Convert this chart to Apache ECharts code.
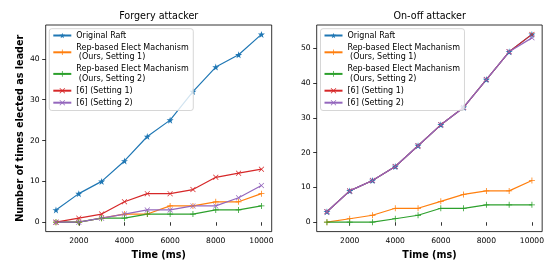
<!DOCTYPE html>
<html>
<head>
<meta charset="utf-8">
<script src="https://cdn.jsdelivr.net/npm/echarts@6/dist/echarts.min.js"></script>
<style>
  html, body { margin: 0; padding: 0; background: #fff; }
  #chart { width: 547px; height: 265px; }
</style>
</head>
<body>
<div id="chart"></div>
<script>
// x values (ms)
var times = [1000, 2000, 3000, 4000, 5000, 6000, 7000, 8000, 9000, 10000]
var xTicks = [2000, 4000, 6000, 8000, 10000]

// Forgery attacker
var forgeryRaft = [3, 7, 10, 15, 21, 25, 32, 38, 41, 46]
var forgeryOurs1 = [0, 0, 1, 2, 2, 4, 4, 5, 5, 7]
var forgeryOurs2 = [0, 0, 1, 1, 2, 2, 2, 3, 3, 4]
var forgeryRef1 = [0, 1, 2, 5, 7, 7, 8, 11, 12, 13]
var forgeryRef2 = [0, 0, 1, 2, 3, 3, 4, 4, 6, 9]
var forgeryYTicks = [0, 10, 20, 30, 40]

// On-off attacker
var onoffRaft = [3, 9, 12, 16, 22, 28, 33, 41, 49, 54]
var onoffOurs1 = [0, 1, 2, 4, 4, 6, 8, 9, 9, 12]
var onoffOurs2 = [0, 0, 0, 1, 2, 4, 4, 5, 5, 5]
var onoffRef1 = [3, 9, 12, 16, 22, 28, 33, 41, 49, 54]
var onoffRef2 = [3, 9, 12, 16, 22, 28, 33, 41, 49, 53]
var onoffYTicks = [0, 10, 20, 30, 40, 50]

var leftNames = ['Original Raft', 'Rep-based Elect Machanism\n (Ours, Setting 1)',
  'Rep-based Elect Machanism\n (Ours, Setting 2)', '[6] (Setting 1)', '[6] (Setting 2)']
var rightNames = ['Orignal Raft', leftNames[1] + ' ', leftNames[2] + ' ', '[6] (Setting 1) ', '[6] (Setting 2) ']

var colors = ['#1f77b4', '#ff7f0e', '#2ca02c', '#d62728', '#9467bd']

var STAR = 'path://M0,-10L2.24,-3.09L9.51,-3.09L3.63,1.18L5.88,8.09L0,3.82L-5.88,8.09L-3.63,1.18L-9.51,-3.09L-2.24,-3.09Z'
var PLUS = 'path://M-1.3,-10H1.3V-1.3H10V1.3H1.3V10H-1.3V1.3H-10V-1.3H-1.3Z'
var CROSS = 'path://M-10,-8.2L-8.2,-10L0,-1.8L8.2,-10L10,-8.2L1.8,0L10,8.2L8.2,10L0,1.8L-8.2,10L-10,8.2L-1.8,0Z'
var symbols = [STAR, PLUS, PLUS, CROSS, CROSS]
var symSizes = [7, 6, 6, 5.5, 5.5]

function pairs (vals) {
  return times.map(function (t, i) { return [t, vals[i]] })
}

function makeSeries (names, sets, axisIdx) {
  return sets.map(function (vals, i) {
    return {
      name: names[i],
      type: 'line',
      xAxisIndex: axisIdx,
      yAxisIndex: axisIdx,
      data: pairs(vals),
      symbol: symbols[i],
      symbolSize: symSizes[i],
      showAllSymbol: true,
      animation: false,
      itemStyle: { color: colors[i] },
      lineStyle: { color: colors[i], width: 1.2 }
    }
  })
}

var tickFont = { fontFamily: 'DejaVu Sans', fontSize: 7.6, color: '#000' }
var nameFont = { fontFamily: 'DejaVu Sans', fontSize: 9.6, fontWeight: 'bold', color: '#000' }

function plain (v) { return String(v) }

function xAxisOpt (idx, name) {
  return {
    type: 'value',
    gridIndex: idx,
    min: 550,
    max: 10450,
    name: name,
    nameLocation: 'middle',
    nameGap: 15.5,
    nameTextStyle: nameFont,
    axisLine: { show: false },
    splitLine: { show: false },
    axisTick: { show: true, length: 3.5, customValues: xTicks, lineStyle: { color: '#000', width: 0.8 } },
    axisLabel: Object.assign({ margin: 5.5, customValues: xTicks, formatter: plain }, tickFont)
  }
}

function yAxisOpt (idx, min, max, ticks, name) {
  return {
    type: 'value',
    gridIndex: idx,
    min: min,
    max: max,
    name: name,
    nameLocation: 'middle',
    nameGap: 20,
    nameTextStyle: nameFont,
    axisLine: { show: false },
    splitLine: { show: false },
    axisTick: { show: true, length: 3.5, customValues: ticks, lineStyle: { color: '#000', width: 0.8 } },
    axisLabel: Object.assign({ margin: 6, customValues: ticks, formatter: plain }, tickFont)
  }
}

function legendOpt (names, left) {
  return {
    data: names,
    orient: 'vertical',
    left: left,
    top: 28.7,
    itemWidth: 18,
    itemHeight: 7,
    itemGap: 2.4,
    padding: [2, 4.5, 3, 3],
    backgroundColor: 'rgba(255,255,255,0.8)',
    borderColor: '#cccccc',
    borderWidth: 0.8,
    borderRadius: 2.5,
    textStyle: { fontFamily: 'DejaVu Sans', fontSize: 8, lineHeight: 9.6, color: '#000' }
  }
}

var option = {
  animation: false,
  backgroundColor: '#fff',
  grid: [
    { left: 45.7, right: 275.3, top: 25, bottom: 26, show: true, borderColor: '#000', borderWidth: 0.8, backgroundColor: 'transparent' },
    { left: 316.7, right: 4.3, top: 25, bottom: 26, show: true, borderColor: '#000', borderWidth: 0.8, backgroundColor: 'transparent' }
  ],
  graphic: [
    { type: 'text', x: 158.7, y: 16, style: { text: 'Forgery attacker', fontFamily: 'DejaVu Sans', fontSize: 9.6, fill: '#000', align: 'center', verticalAlign: 'middle' } },
    { type: 'text', x: 429.7, y: 16, style: { text: 'On-off attacker', fontFamily: 'DejaVu Sans', fontSize: 9.6, fill: '#000', align: 'center', verticalAlign: 'middle' } }
  ],
  legend: [legendOpt(leftNames, 49.3), legendOpt(rightNames, 320.5)],
  xAxis: [xAxisOpt(0, 'Time (ms)'), xAxisOpt(1, 'Time (ms)')],
  yAxis: [
    yAxisOpt(0, -2.3, 48.3, forgeryYTicks, 'Number of times elected as leader'),
    yAxisOpt(1, -2.7, 56.7, onoffYTicks, '')
  ],
  series: makeSeries(leftNames, [forgeryRaft, forgeryOurs1, forgeryOurs2, forgeryRef1, forgeryRef2], 0)
    .concat(makeSeries(rightNames, [onoffRaft, onoffOurs1, onoffOurs2, onoffRef1, onoffRef2], 1))
}

var chart = echarts.init(document.getElementById('chart'), null, { renderer: 'canvas' })
chart.setOption(option)
</script>
</body>
</html>
